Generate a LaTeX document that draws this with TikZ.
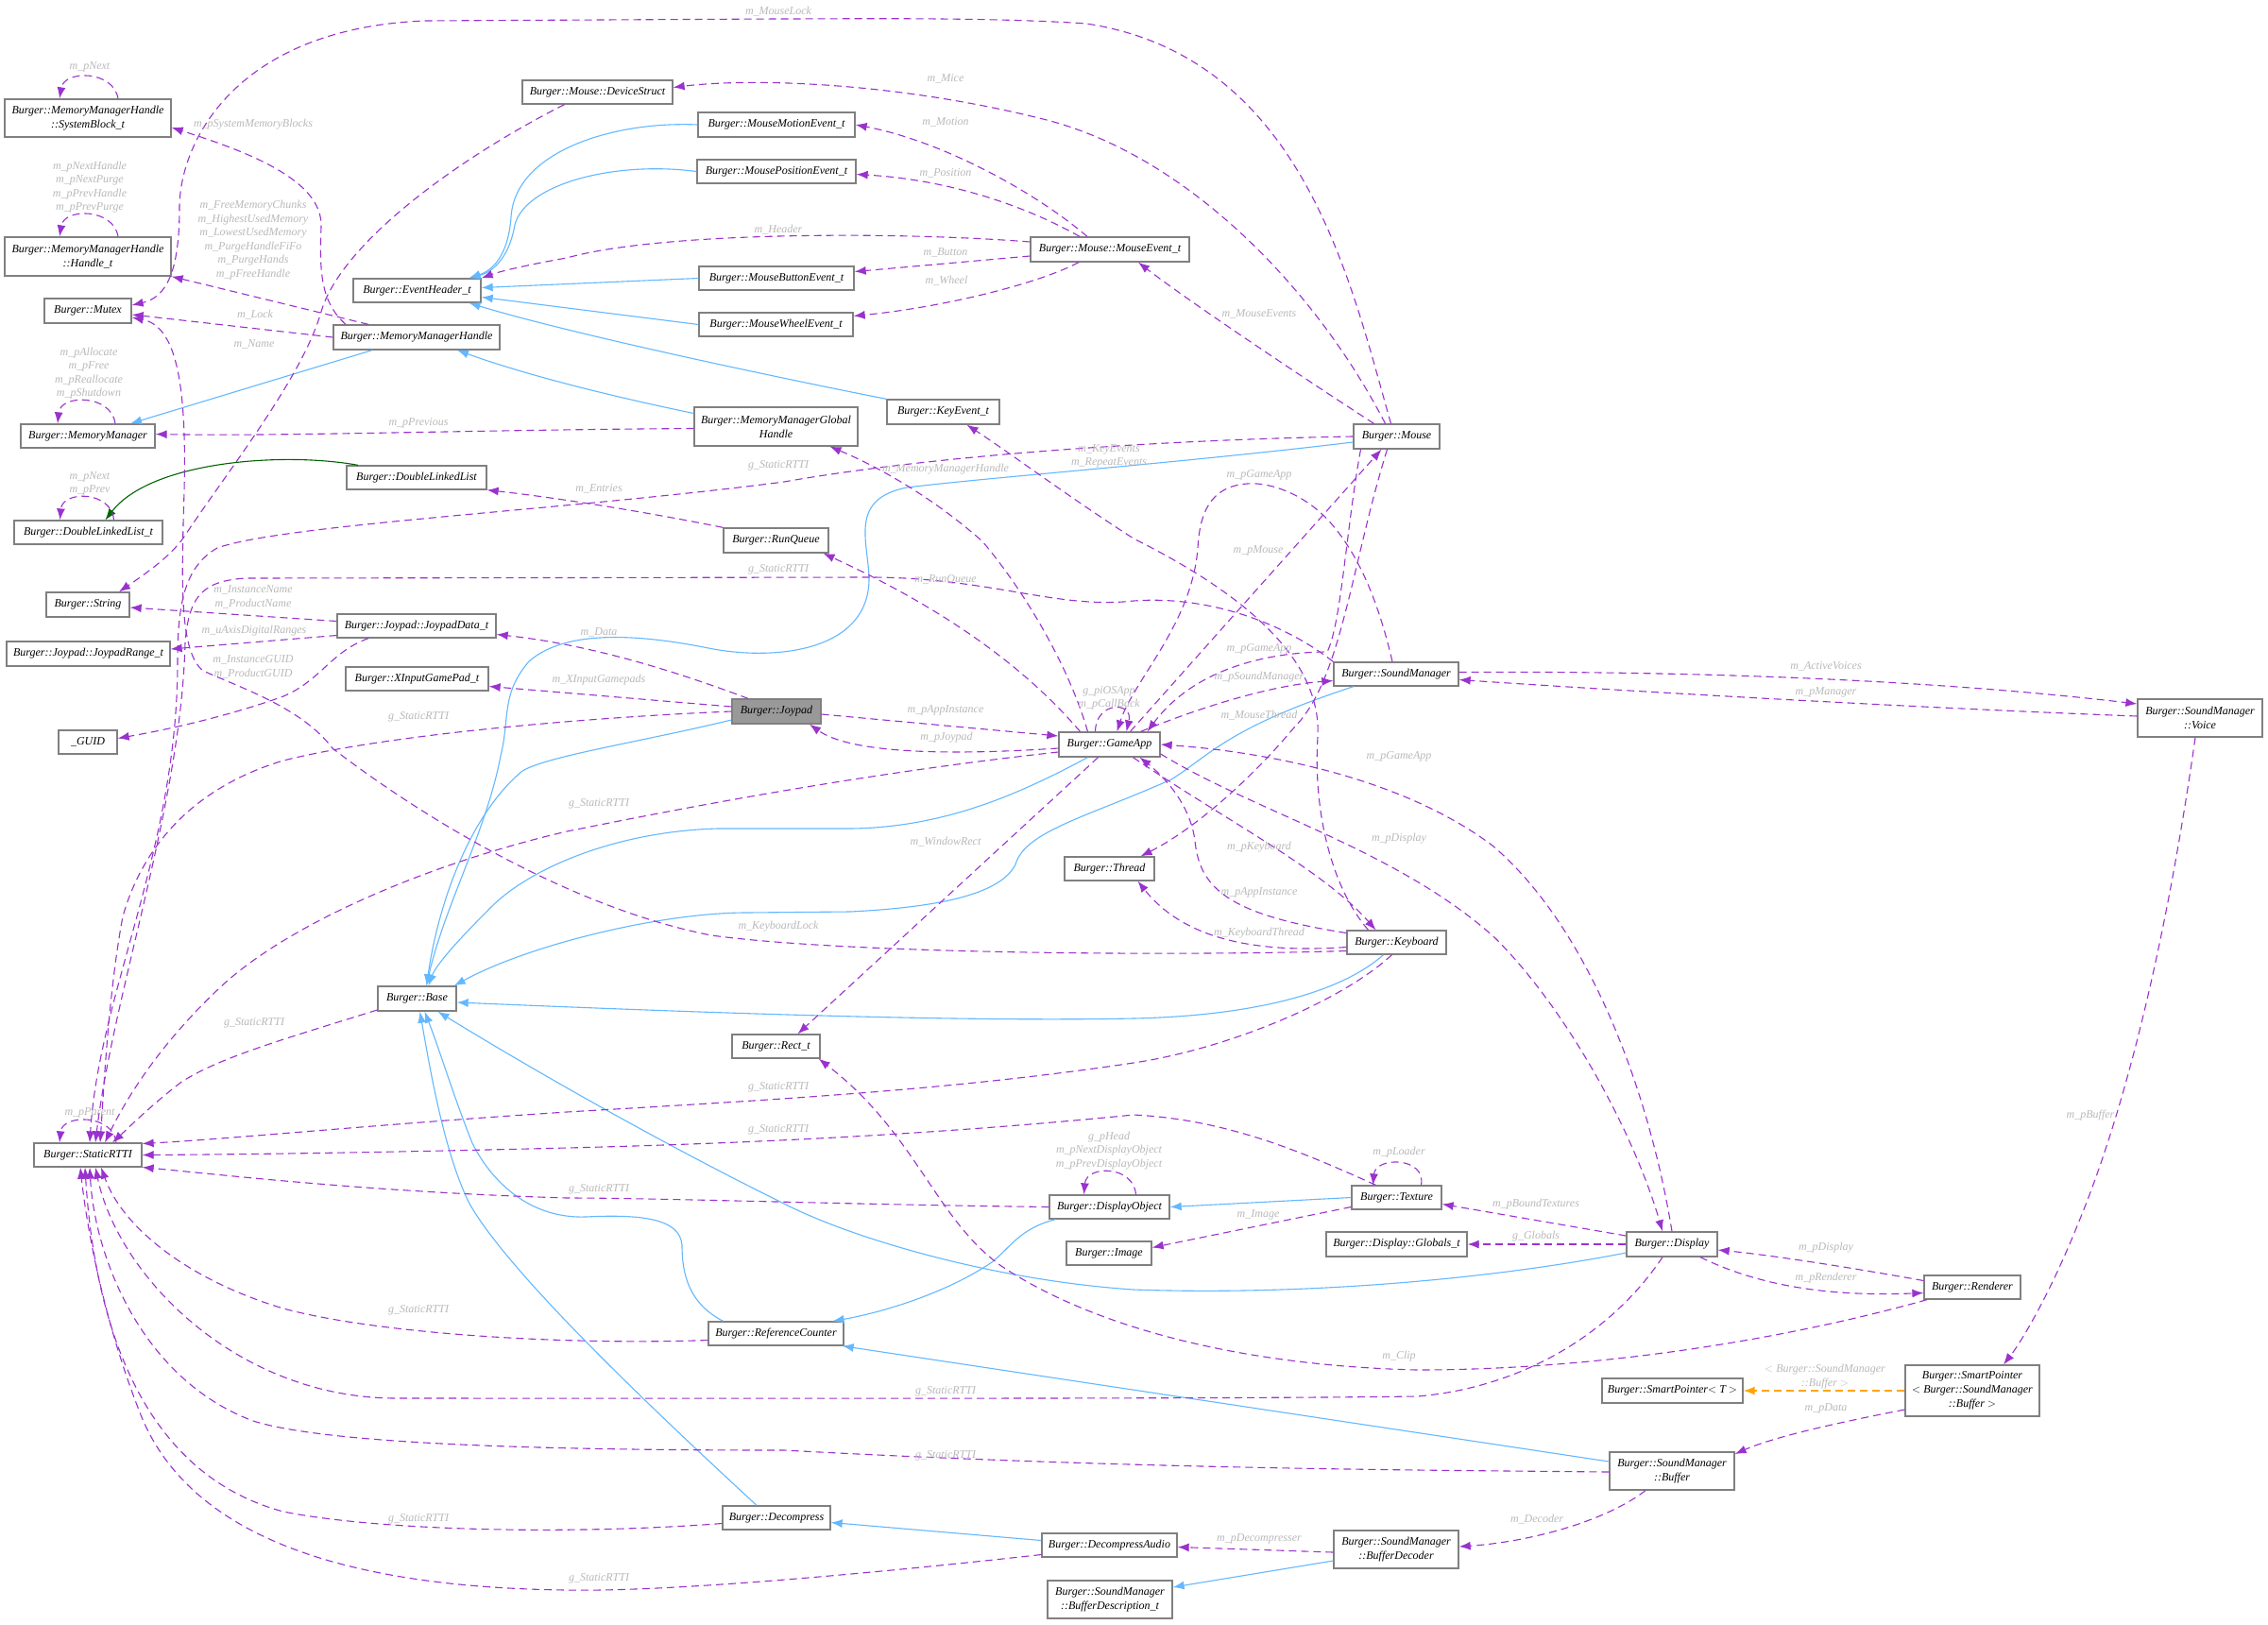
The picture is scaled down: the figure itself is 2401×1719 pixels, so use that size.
\documentclass[tikz,border=0pt]{standalone}
\usepackage{fontspec}
\setmainfont{Liberation Serif}
\usetikzlibrary{arrows.meta}
\definecolor{purp}{RGB}{154,50,205}
\definecolor{sblue}{RGB}{99,184,255}
\definecolor{dgreen}{RGB}{0,100,0}
\definecolor{orng}{RGB}{255,165,0}
\definecolor{lblgray}{RGB}{185,185,185}
\definecolor{boxgray}{RGB}{128,128,128}
\definecolor{joyfill}{RGB}{153,153,153}
\tikzset{
  box/.style={draw=boxgray, line width=1.3pt, fill=white, font=\fontsize{12}{15}\selectfont\itshape, inner sep=2pt, align=center},
  lbl/.style={font=\fontsize{12}{14.5}\selectfont\itshape, text=lblgray, inner sep=0pt, align=center},
  use/.style={draw=purp, line width=1.1pt, dash pattern=on 8pt off 5pt, -{Latex[length=12pt,width=9pt]}},
  inh/.style={draw=sblue, line width=1.1pt, -{Latex[length=12pt,width=9pt]}},
  grn/.style={draw=dgreen, line width=1.1pt, -{Latex[length=12pt,width=9pt]}},
  tmpl/.style={draw=orng, line width=1.3pt, dash pattern=on 8pt off 5pt, -{Latex[length=12pt,width=9pt]}}
}
\begin{document}
\begin{tikzpicture}[x=1pt,y=-1pt]
\useasboundingbox (0,0) rectangle (2401,1719);
\fill[white] (0,0) rectangle (2401,1719);

% ---------------- nodes ----------------
\node[box, minimum width=176pt, minimum height=40pt] (sb) at (93,125) {Burger::MemoryManagerHandle\\::SystemBlock\_t};
\node[box, minimum width=176pt, minimum height=41pt] (ht) at (93,271.5) {Burger::MemoryManagerHandle\\::Handle\_t};
\node[box, minimum width=92pt, minimum height=26pt] (mutex) at (93,329) {Burger::Mutex};
\node[box, minimum width=142pt, minimum height=25pt] (mm) at (93,461.5) {Burger::MemoryManager};
\node[box, minimum width=157pt, minimum height=25pt] (dllt) at (93.5,563.5) {Burger::DoubleLinkedList\_t};
\node[box, minimum width=88pt, minimum height=26pt] (str) at (93,640) {Burger::String};
\node[box, minimum width=173pt, minimum height=26pt] (jr) at (93.5,692) {Burger::Joypad::JoypadRange\_t};
\node[box, minimum width=62pt, minimum height=25pt] (guid) at (93,785.5) {\_GUID};
\node[box, minimum width=114pt, minimum height=25pt] (rtti) at (93,1222.5) {Burger::StaticRTTI};
\node[box, minimum width=159pt, minimum height=25pt] (ds) at (632.5,97.5) {Burger::Mouse::DeviceStruct};
\node[box, minimum width=135pt, minimum height=25pt] (eh) at (441.5,307.5) {Burger::EventHeader\_t};
\node[box, minimum width=176pt, minimum height=26pt] (mmh) at (441,357) {Burger::MemoryManagerHandle};
\node[box, minimum width=148pt, minimum height=25pt] (dll) at (441,505.5) {Burger::DoubleLinkedList};
\node[box, minimum width=168pt, minimum height=25pt] (jd) at (441,662.5) {Burger::Joypad::JoypadData\_t};
\node[box, minimum width=151pt, minimum height=25pt] (xi) at (441.5,718.5) {Burger::XInputGamePad\_t};
\node[box, minimum width=83pt, minimum height=26pt] (base) at (441.5,1057) {Burger::Base};
\node[box, minimum width=166pt, minimum height=26pt] (mme) at (822,132) {Burger::MouseMotionEvent\_t};
\node[box, minimum width=168pt, minimum height=25pt] (mpe) at (822,181.5) {Burger::MousePositionEvent\_t};
\node[box, minimum width=164pt, minimum height=25pt] (mbe) at (822,294.5) {Burger::MouseButtonEvent\_t};
\node[box, minimum width=163pt, minimum height=25pt] (mwe) at (821.5,343.5) {Burger::MouseWheelEvent\_t};
\node[box, minimum width=173pt, minimum height=41pt] (mmgh) at (821.5,451.5) {Burger::MemoryManagerGlobal\\Handle};
\node[box, minimum width=119pt, minimum height=26pt] (ke) at (998.5,436) {Burger::KeyEvent\_t};
\node[box, minimum width=111pt, minimum height=26pt] (rq) at (821.5,572) {Burger::RunQueue};
\node[box, fill=joyfill, minimum width=94pt, minimum height=26pt] (joy) at (822,753) {Burger::Joypad};
\node[box, minimum width=93pt, minimum height=25pt] (rect) at (821.5,1107.5) {Burger::Rect\_t};
\node[box, minimum width=143pt, minimum height=25pt] (rc) at (821.5,1411.5) {Burger::ReferenceCounter};
\node[box, minimum width=114pt, minimum height=25pt] (dec) at (822,1606.5) {Burger::Decompress};
\node[box, minimum width=168pt, minimum height=26pt] (me) at (1175,264) {Burger::Mouse::MouseEvent\_t};
\node[box, minimum width=91pt, minimum height=26pt] (mouse) at (1478.5,462) {Burger::Mouse};
\node[box, minimum width=107pt, minimum height=26pt] (app) at (1174.5,788) {Burger::GameApp};
\node[box, minimum width=95pt, minimum height=25pt] (thread) at (1174.5,919.5) {Burger::Thread};
\node[box, minimum width=132pt, minimum height=25pt] (sm) at (1478,713.5) {Burger::SoundManager};
\node[box, minimum width=105pt, minimum height=25pt] (kb) at (1478.5,997.5) {Burger::Keyboard};
\node[box, minimum width=127pt, minimum height=25pt] (dobj) at (1174.5,1277.5) {Burger::DisplayObject};
\node[box, minimum width=90pt, minimum height=25pt] (img) at (1174,1326.5) {Burger::Image};
\node[box, minimum width=95pt, minimum height=25pt] (tex) at (1478.5,1267.5) {Burger::Texture};
\node[box, minimum width=149pt, minimum height=26pt] (glob) at (1478.5,1317) {Burger::Display::Globals\_t};
\node[box, minimum width=143pt, minimum height=25pt] (da) at (1174.5,1635.5) {Burger::DecompressAudio};
\node[box, minimum width=132pt, minimum height=40pt] (bd) at (1175,1693) {Burger::SoundManager\\::BufferDescription\_t};
\node[box, minimum width=132pt, minimum height=40pt] (bdec) at (1478,1640) {Burger::SoundManager\\::BufferDecoder};
\node[box, minimum width=96pt, minimum height=26pt] (disp) at (1770,1317) {Burger::Display};
\node[box, minimum width=102pt, minimum height=25pt] (rend) at (2088,1362.5) {Burger::Renderer};
\node[box, minimum width=149pt, minimum height=26pt] (spt) at (1770.5,1472) {Burger::SmartPointer$<$ T $>$};
\node[box, minimum width=142pt, minimum height=54pt] (spb) at (2088,1472) {Burger::SmartPointer\\$<$ Burger::SoundManager\\::Buffer $>$};
\node[box, minimum width=132pt, minimum height=40pt] (buf) at (1770,1557) {Burger::SoundManager\\::Buffer};
\node[box, minimum width=132pt, minimum height=40pt] (voice) at (2329,760) {Burger::SoundManager\\::Voice};

% ---------------- inheritance (blue) ----------------
\draw[inh] (mme.west) .. controls (650,128) and (545,160) .. (541,230) .. controls (538,270) and (522,286) .. ([xshift=55pt]eh.north);
\draw[inh] (mpe.west) .. controls (650,170) and (556,195) .. (545,238) .. controls (540,268) and (525,287) .. ([xshift=55pt]eh.north);
\draw[inh] (mbe.west) -- ([yshift=3pt]eh.east);
\draw[inh] (mwe.west) -- ([yshift=-7pt]eh.east);
\draw[inh] (ke.north west) .. controls (800,395) and (600,352) .. ([xshift=55pt]eh.south);
\draw[inh] ([yshift=14pt]mmgh.west) .. controls (650,420) and (560,398) .. ([xshift=43pt]mmh.south);
\draw[inh] ([xshift=-47pt]mmh.south) -- ([xshift=45pt]mm.north);
\draw[grn] ([xshift=-62pt]dll.north) .. controls (300,478) and (160,488) .. ([xshift=18pt]dllt.north);
\draw[inh] ([yshift=-6pt]mouse.west) .. controls (1250,490) and (1050,505) .. (960,516) .. controls (900,528) and (918,570) .. (920,610) .. controls (922,690) and (820,700) .. (750,686) .. controls (680,672) and (600,665) .. (560,700) .. controls (530,735) and (540,760) .. (530,800) .. controls (515,880) and (470,960) .. ([xshift=10pt]base.north);
\draw[inh] ([yshift=-9pt]joy.west) .. controls (680,785) and (580,800) .. (553,816) .. controls (500,860) and (465,950) .. ([xshift=10pt]base.north);
\draw[inh] ([xshift=-23pt]app.south) .. controls (1080,840) and (1000,876) .. (900,877) -- (760,877) .. controls (650,880) and (560,920) .. (520,960) .. controls (490,990) and (462,1020) .. ([xshift=12pt]base.north);
\draw[inh] ([xshift=-45pt]sm.south) .. controls (1300,770) and (1280,800) .. (1240,825) .. controls (1150,865) and (1085,880) .. (1075,915) .. controls (1060,945) and (1000,960) .. (900,965) -- (790,966) .. controls (700,966) and (560,1000) .. ([xshift=-3pt]base.north east);
\draw[inh] ([xshift=-14pt]kb.south) .. controls (1420,1050) and (1330,1075) .. (1200,1078) .. controls (1000,1082) and (700,1070) .. ([yshift=-4pt]base.east);
\draw[inh] ([yshift=-9pt]disp.west) .. controls (1600,1350) and (1400,1372) .. (1200,1365) .. controls (1050,1355) and (900,1310) .. (830,1274) .. controls (700,1210) and (560,1130) .. ([xshift=22pt]base.south);
\draw[inh] ([xshift=-56pt]rc.north) .. controls (730,1380) and (722,1350) .. (722,1318) .. controls (720,1290) and (680,1285) .. (620,1288) .. controls (560,1290) and (520,1250) .. (500,1210) .. controls (480,1160) and (465,1110) .. ([xshift=8pt]base.south);
\draw[inh] ([xshift=-21pt]dec.north) .. controls (700,1500) and (540,1350) .. (497,1274) .. controls (470,1220) and (455,1130) .. ([xshift=3pt]base.south);
\draw[inh] ([xshift=-57pt]dobj.south) .. controls (1080,1300) and (1070,1320) .. (1050,1336) .. controls (1000,1370) and (930,1390) .. ([xshift=60pt]rc.north);
\draw[inh] (tex.west) -- (dobj.east);
\draw[inh] ([yshift=10pt]buf.west) -- ([xshift=-2pt]rc.south east);
\draw[inh] ([yshift=5pt]da.west) -- ([yshift=-5pt]dec.east);
\draw[inh] ([yshift=-12pt]bdec.west) -- ([yshift=13pt]bd.east);
\draw[tmpl] (spb.west) -- (spt.east);

% ---------------- usage (purple dashed) ----------------
% self loops
\draw[use] ([xshift=32pt]sb.north) .. controls (120,74) and (68,74) .. ([xshift=-30pt]sb.north);
\draw[use] ([xshift=32pt]ht.north) .. controls (120,220) and (68,220) .. ([xshift=-30pt]ht.north);
\draw[use] ([xshift=29pt]mm.north) .. controls (118,417) and (64,417) .. ([xshift=-32pt]mm.north);
\draw[use] ([xshift=27pt]dllt.north) .. controls (118,519) and (66,519) .. ([xshift=-30pt]dllt.north);
\draw[use] ([xshift=30pt]rtti.north) .. controls (120,1179) and (66,1179) .. ([xshift=-30pt]rtti.north);
\draw[use] ([xshift=-15pt]app.north) .. controls (1160,742) and (1200,742) .. ([xshift=18pt]app.north);
\draw[use] ([xshift=28pt]dobj.north) .. controls (1200,1233) and (1150,1233) .. ([xshift=-27pt]dobj.north);
\draw[use] ([xshift=26pt]tex.north) .. controls (1510,1224) and (1456,1224) .. ([xshift=-25pt]tex.north);

% memory manager group
\draw[use] ([xshift=-6pt]mouse.north) .. controls (1430,300) and (1380,60) .. (1150,25) .. controls (1050,18) and (900,20) .. (824,20) -- (450,22) .. controls (250,30) and (190,150) .. (190,220) .. controls (190,290) and (175,315) .. ([yshift=6pt]mutex.east);
\draw[use] ([xshift=-75pt]mmh.north) .. controls (340,320) and (338,290) .. (340,240) .. controls (342,190) and (260,160) .. ([yshift=-10pt]sb.east);
\draw[use] ([xshift=-51pt]mmh.north) -- (ht.south east);
\draw[use] (mmh.west) -- ([yshift=-4pt]mutex.east);
\draw[use] ([xshift=-35pt]ds.south) .. controls (480,170) and (360,260) .. (340,330) .. controls (320,400) and (240,500) .. (195,568) .. controls (180,590) and (150,610) .. ([xshift=33pt]str.north);
\draw[use] ([yshift=-2pt]mmgh.west) .. controls (500,455) and (300,462) .. ([yshift=2pt]mm.east);
\draw[use] (rq.north west) .. controls (700,545) and (600,528) .. (dll.south east);

% mouse events
\draw[use] ([xshift=-24pt]me.north) .. controls (1098,205) and (1000,150) .. (mme.east);
\draw[use] ([xshift=-32pt]me.north) .. controls (1080,215) and (1000,190) .. ([yshift=-3pt]mpe.east);
\draw[use] ([yshift=8pt]me.west) .. controls (950,245) and (700,245) .. (600,273) .. controls (560,280) and (530,287) .. (eh.north east);
\draw[use] ([yshift=-7pt]me.west) -- ([yshift=7pt]mbe.east);
\draw[use] ([xshift=-33pt]me.south) .. controls (1100,300) and (1000,325) .. ([yshift=9pt]mwe.east);
\draw[use] ([xshift=-24pt]mouse.north) .. controls (1380,400) and (1260,320) .. ([xshift=30pt]me.south);
\draw[use] ([xshift=-12pt]mouse.north) .. controls (1390,300) and (1250,160) .. (1100,125) .. controls (950,88) and (800,82) .. ([yshift=5pt]ds.east);

% StaticRTTI edges
\draw[use] (mouse.west) .. controls (1250,465) and (1000,480) .. (830,510) .. controls (600,540) and (300,555) .. (230,580) .. controls (195,600) and (188,640) .. (188,700) .. controls (188,900) and (105,1050) .. ([xshift=2pt]rtti.north);
\draw[use] (sm.north west) .. controls (1360,660) and (1280,630) .. (1200,636) .. controls (1120,645) and (1050,612) .. (925,611) -- (260,612) .. controls (215,615) and (200,630) .. (196,680) .. controls (192,850) and (120,1050) .. ([xshift=8pt]rtti.north);
\draw[use] (joy.west) .. controls (650,758) and (420,775) .. (300,805) .. controls (200,835) and (150,900) .. (130,970) .. controls (115,1050) and (110,1150) .. ([xshift=13pt]rtti.north);
\draw[use] ([yshift=-8pt]app.west) .. controls (900,820) and (700,860) .. (600,880) .. controls (450,915) and (300,980) .. (230,1048) .. controls (170,1105) and (135,1160) .. ([xshift=18pt]rtti.north);
\draw[use] ([yshift=-12pt]base.west) .. controls (300,1100) and (230,1120) .. (191,1146) .. controls (160,1170) and (140,1190) .. ([xshift=26pt]rtti.north);
\draw[use] ([xshift=-5pt]kb.south) .. controls (1420,1060) and (1300,1110) .. (1200,1125) .. controls (1000,1155) and (800,1165) .. (600,1177) .. controls (400,1190) and (250,1205) .. ([yshift=12pt]rtti.east);
\draw[use] ([xshift=-22pt]tex.north) .. controls (1380,1220) and (1300,1185) .. (1200,1180) .. controls (1000,1200) and (800,1210) .. (600,1215) .. controls (400,1220) and (250,1222) .. (rtti.east);
\draw[use] (dobj.west) .. controls (900,1275) and (700,1268) .. (600,1268) .. controls (400,1262) and (250,1245) .. ([yshift=-13pt]rtti.east);
\draw[use] ([yshift=-7pt]rc.west) .. controls (600,1424) and (400,1412) .. (300,1385) .. controls (200,1355) and (130,1300) .. ([xshift=14pt]rtti.south);
\draw[use] ([xshift=-10pt]disp.south) .. controls (1700,1420) and (1600,1470) .. (1500,1478) .. controls (1300,1481) and (600,1480) .. (420,1480) .. controls (250,1480) and (125,1350) .. ([xshift=8pt]rtti.south);
\draw[use] ([yshift=-1pt]buf.west) .. controls (1500,1556) and (1200,1555) .. (830,1535) .. controls (600,1535) and (350,1530) .. (268,1504) .. controls (150,1460) and (100,1330) .. ([xshift=2pt]rtti.south);
\draw[use] ([yshift=-6pt]dec.west) .. controls (600,1625) and (400,1620) .. (300,1600) .. controls (150,1560) and (100,1400) .. ([xshift=-3pt]rtti.south);
\draw[use] ([yshift=-10pt]da.west) .. controls (900,1668) and (700,1685) .. (600,1683) .. controls (350,1680) and (200,1620) .. (150,1500) .. controls (110,1400) and (92,1300) .. ([xshift=-8pt]rtti.south);

% joypad group
\draw[use] ([yshift=-3pt]joy.east) -- ([yshift=9pt]app.west);
\draw[use] ([yshift=-4pt]app.west) .. controls (1000,800) and (900,797) .. ([xshift=35pt]joy.south);
\draw[use] ([xshift=-30pt]joy.north) .. controls (740,720) and (640,684) .. ([yshift=-9pt]jd.east);
\draw[use] ([yshift=5pt]joy.west) -- ([yshift=-8pt]xi.east);
\draw[use] ([yshift=5pt]jd.west) -- ([yshift=-3pt]str.east);
\draw[use] ([yshift=-10pt]jd.west) -- ([yshift=5pt]jr.east);
\draw[use] ([xshift=-51pt]jd.south) .. controls (350,690) and (340,720) .. (300,737) .. controls (250,755) and (190,770) .. ([yshift=4pt]guid.east);

% game app group
\draw[use] ([xshift=-23pt]app.north) .. controls (1130,700) and (1080,620) .. (1040,573) .. controls (980,520) and (920,490) .. ([xshift=57pt]mmgh.south);
\draw[use] ([xshift=-31pt]app.north) .. controls (1080,700) and (990,640) .. ([xshift=50pt]rq.south);
\draw[use] ([xshift=22pt]app.north) -- ([xshift=-16pt]mouse.south);
\draw[use] ([xshift=-4pt]sm.north) .. controls (1460,640) and (1440,590) .. (1410,555) .. controls (1380,520) and (1340,510) .. (1320,512) .. controls (1280,515) and (1270,545) .. (1268,580) .. controls (1262,660) and (1200,720) .. ([xshift=8pt]app.north);
\draw[use] ([xshift=-38pt]mouse.south) .. controls (1425,560) and (1420,660) .. (1405,690) .. controls (1360,690) and (1270,700) .. ([xshift=40pt]app.north);
\draw[use] ([xshift=33pt]app.north) .. controls (1280,745) and (1350,725) .. ([yshift=-7pt]sm.west);
\draw[use] ([yshift=2pt]sm.east) .. controls (1800,710) and (2050,720) .. ([yshift=15pt]voice.west);
\draw[use] ([yshift=2pt]voice.west) .. controls (2000,748) and (1700,730) .. ([yshift=-6pt]sm.east);
\draw[use] ([xshift=-5pt]voice.south) .. controls (2300,950) and (2260,1150) .. (2200,1295) .. controls (2170,1370) and (2140,1420) .. ([xshift=33pt]spb.north);
\draw[use] ([xshift=-12pt]app.south) -- ([xshift=23pt]rect.north);
\draw[use] (disp.north) .. controls (1745,1150) and (1680,980) .. (1580,895) .. controls (1480,820) and (1330,795) .. (app.east);
\draw[use] ([yshift=-10pt]app.east) .. controls (1330,860) and (1480,900) .. (1583,993) .. controls (1660,1070) and (1730,1200) .. ([xshift=-10pt]disp.north);
\draw[use] ([xshift=25pt]app.south) .. controls (1300,870) and (1400,920) .. ([xshift=-22pt]kb.north);
\draw[use] ([yshift=10pt]kb.west) .. controls (1300,968) and (1270,940) .. (1265,890) .. controls (1260,850) and (1230,820) .. ([xshift=32pt]app.south);
\draw[use] ([yshift=-5pt]kb.west) .. controls (1320,1010) and (1250,990) .. ([xshift=30pt]thread.south);
\draw[use] ([xshift=-10pt]mouse.south) .. controls (1430,600) and (1420,720) .. (1370,770) .. controls (1320,830) and (1260,880) .. ([xshift=33pt]thread.north);
\draw[use] ([xshift=-30pt]kb.north) .. controls (1410,940) and (1390,860) .. (1395,780) .. controls (1400,690) and (1300,620) .. (1200,570) .. controls (1130,525) and (1070,480) .. ([xshift=25pt]ke.south);
\draw[use] ([yshift=-9pt]kb.west) .. controls (1250,1012) and (900,1010) .. (753,990) .. controls (600,960) and (440,860) .. (352,792) .. controls (320,750) and (260,730) .. (215,710) .. controls (190,690) and (192,620) .. (195,520) .. controls (198,400) and (185,345) .. ([yshift=-7pt]mutex.east);

% display group
\draw[use] ([yshift=9pt]disp.west) -- ([yshift=-7pt]tex.east);
\draw[use] ([yshift=-10pt]tex.west) -- ([yshift=6pt]img.east);
\draw[use] (disp.west) -- (glob.east);
\draw[use] ([yshift=7pt]rend.west) .. controls (1950,1340) and (1870,1328) .. ([yshift=-6pt]disp.east);
\draw[use] ([xshift=30pt]disp.south) .. controls (1870,1365) and (1950,1372) .. ([yshift=-6pt]rend.west);
\draw[use] ([xshift=-48pt]rend.south) .. controls (1900,1415) and (1700,1450) .. (1500,1450) .. controls (1300,1445) and (1150,1400) .. (1060,1340) .. controls (990,1290) and (970,1200) .. ([xshift=-2pt]rect.south east);

% sound group
\draw[use] ([yshift=-20pt]spb.west) .. controls (1950,1505) and (1880,1520) .. ([yshift=18pt]buf.east);
\draw[use] ([xshift=-28pt]buf.south) .. controls (1700,1610) and (1620,1632) .. ([yshift=3pt]bdec.east);
\draw[use] ([yshift=-3pt]bdec.west) -- ([yshift=-2pt]da.east);

% ---------------- labels ----------------
\node[lbl] (l01) at (824,12) {m\_MouseLock};
\node[lbl] (l02) at (95,71) {m\_pNext};
\node[lbl] (l03) at (268,132) {m\_pSystemMemoryBlocks};
\node[lbl] (l04) at (1001,83) {m\_Mice};
\node[lbl] (l05) at (1001,129) {m\_Motion};
\node[lbl] (l06) at (1001,183) {m\_Position};
\node[lbl] (l07) at (95,198) {m\_pNextHandle\\m\_pNextPurge\\m\_pPrevHandle\\m\_pPrevPurge};
\node[lbl] (l08) at (268,254) {m\_FreeMemoryChunks\\m\_HighestUsedMemory\\m\_LowestUsedMemory\\m\_PurgeHandleFiFo\\m\_PurgeHands\\m\_pFreeHandle};
\node[lbl] (l09) at (824,243) {m\_Header};
\node[lbl] (l10) at (1001,267) {m\_Button};
\node[lbl] (l11) at (1002,297) {m\_Wheel};
\node[lbl] (l12) at (270,333) {m\_Lock};
\node[lbl] (l13) at (1333,332) {m\_MouseEvents};
\node[lbl] (l14) at (269,364) {m\_Name};
\node[lbl] (l15) at (94,395) {m\_pAllocate\\m\_pFree\\m\_pReallocate\\m\_pShutdown};
\node[lbl] (l16) at (443,448) {m\_pPrevious};
\node[lbl] (l17) at (1174,483) {m\_KeyEvents\\m\_RepeatEvents};
\node[lbl] (l18) at (824,493) {g\_StaticRTTI};
\node[lbl] (l19) at (1001,497) {m\_MemoryManagerHandle};
\node[lbl] (l20) at (1333,503) {m\_pGameApp};
\node[lbl] (l21) at (634,517) {m\_Entries};
\node[lbl] (l22) at (95,512) {m\_pNext\\m\_pPrev};
\node[lbl] (l23) at (1332,583) {m\_pMouse};
\node[lbl] (l24) at (824,603) {g\_StaticRTTI};
\node[lbl] (l25) at (1001,613) {m\_RunQueue};
\node[lbl] (l26) at (268,632) {m\_InstanceName\\m\_ProductName};
\node[lbl] (l27) at (269,668) {m\_uAxisDigitalRanges};
\node[lbl] (l28) at (634,669) {m\_Data};
\node[lbl] (l29) at (1333,687) {m\_pGameApp};
\node[lbl] (l30) at (268,706) {m\_InstanceGUID\\m\_ProductGUID};
\node[lbl] (l31) at (1333,717) {m\_pSoundManager};
\node[lbl] (l32) at (1933,705) {m\_ActiveVoices};
\node[lbl] (l33) at (634,720) {m\_XInputGamepads};
\node[lbl] (l34) at (1174,739) {g\_piOSApp\\m\_pCallBack};
\node[lbl] (l35) at (1933,733) {m\_pManager};
\node[lbl] (l36) at (1001,752) {m\_pAppInstance};
\node[lbl] (l37) at (1333,757) {m\_MouseThread};
\node[lbl] (l38) at (443,759) {g\_StaticRTTI};
\node[lbl] (l39) at (1002,781) {m\_pJoypad};
\node[lbl] (l40) at (1481,801) {m\_pGameApp};
\node[lbl] (l41) at (634,851) {g\_StaticRTTI};
\node[lbl] (l42) at (1481,888) {m\_pDisplay};
\node[lbl] (l43) at (1001,891) {m\_WindowRect};
\node[lbl] (l44) at (1333,897) {m\_pKeyboard};
\node[lbl] (l45) at (1333,945) {m\_pAppInstance};
\node[lbl] (l46) at (824,981) {m\_KeyboardLock};
\node[lbl] (l47) at (1333,988) {m\_KeyboardThread};
\node[lbl] (l48) at (269,1083) {g\_StaticRTTI};
\node[lbl] (l49) at (824,1151) {g\_StaticRTTI};
\node[lbl] (l50) at (2213,1181) {m\_pBuffer};
\node[lbl] (l51) at (824,1196) {g\_StaticRTTI};
\node[lbl] (l52) at (1174,1218) {g\_pHead\\m\_pNextDisplayObject\\m\_pPrevDisplayObject};
\node[lbl] (l53) at (1481,1220) {m\_pLoader};
\node[lbl] (l54) at (634,1259) {g\_StaticRTTI};
\node[lbl] (l55) at (1626,1275) {m\_pBoundTextures};
\node[lbl] (l56) at (1332,1286) {m\_Image};
\node[lbl] (l57) at (1626,1309) {g\_Globals};
\node[lbl] (l58) at (1933,1321) {m\_pDisplay};
\node[lbl] (l59) at (1933,1353) {m\_pRenderer};
\node[lbl] (l60) at (443,1387) {g\_StaticRTTI};
\node[lbl] (l61) at (1481,1436) {m\_Clip};
\node[lbl] (l62) at (1932,1457) {$<$ Burger::SoundManager\\::Buffer $>$};
\node[lbl] (l63) at (1001,1473) {g\_StaticRTTI};
\node[lbl] (l64) at (1933,1491) {m\_pData};
\node[lbl] (l65) at (1001,1541) {g\_StaticRTTI};
\node[lbl] (l66) at (443,1608) {g\_StaticRTTI};
\node[lbl] (l67) at (1627,1608) {m\_Decoder};
\node[lbl] (l68) at (1333,1629) {m\_pDecompresser};
\node[lbl] (l69) at (634,1671) {g\_StaticRTTI};
\node[lbl] (l70) at (95,1178) {m\_pParent};
\end{tikzpicture}
\end{document}
